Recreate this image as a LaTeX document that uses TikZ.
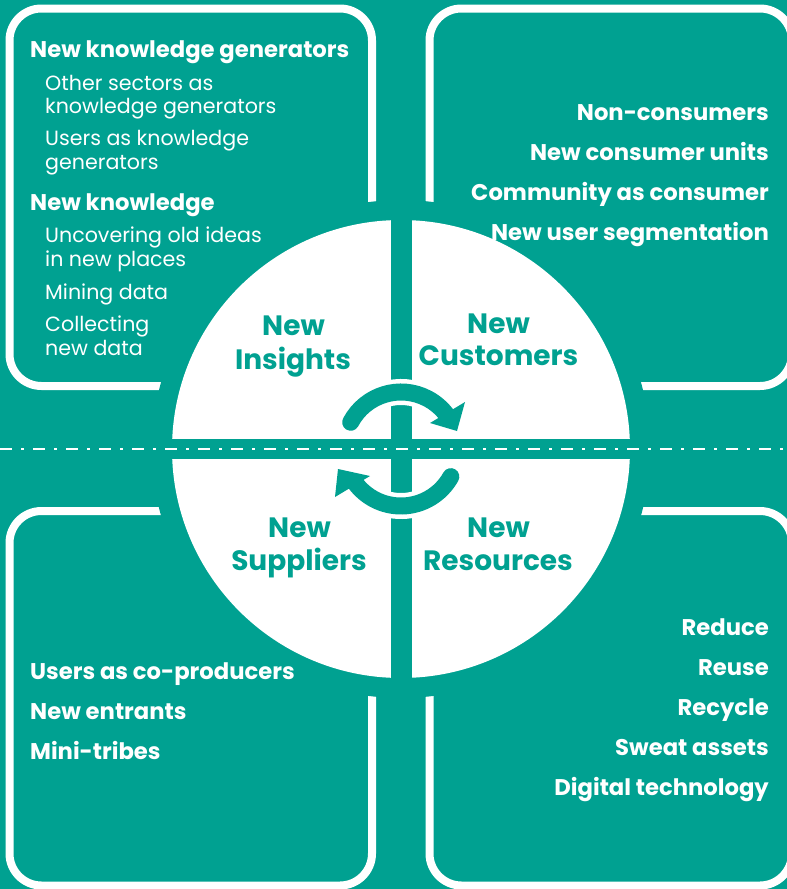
\documentclass[tikz,border=0pt]{standalone}
\usepackage{fontspec}
\setmainfont{Poppins}
\definecolor{bgteal}{RGB}{0,161,145}
\tikzset{
  box/.style={draw=white, line width=8pt, rounded corners=32pt},
  hd/.style={text=white, inner sep=0pt, font=\fontsize{22.7}{26}\selectfont\bfseries},
  itm/.style={text=white, inner sep=0pt, font=\fontsize{20.6}{25}\selectfont},
  lbl/.style={text=bgteal, inner sep=0pt, anchor=base, font=\fontsize{28}{32}\selectfont\bfseries},
}
\begin{document}
\begin{tikzpicture}[x=1pt,y=-1pt]
\fill[bgteal] (0,0) rectangle (787,889);
\useasboundingbox (0,0) rectangle (787,889);
% boxes
\draw[box] (9.5,8.5) rectangle (372,386);
\draw[box] (429.5,8.5) rectangle (792,386);
\draw[box] (9.5,511) rectangle (372,885.5);
\draw[box] (429.5,511) rectangle (792,885.5);
% disc
\fill[bgteal] (401,449) circle[radius=249];
\node[circle, fill=white, minimum size=458pt, inner sep=0pt] (disc) at (401,449) {};
\fill[bgteal] (390.5,215) rectangle (411.5,683);
\fill[bgteal] (165,439) rectangle (637,459);
% cycle arrows
\draw[white, line width=26pt] (401,449) ++(-152:57) arc[start angle=-152, end angle=-36, radius=57];
\draw[bgteal, line width=17pt, line cap=round] (401,449) ++(-152:57) arc[start angle=-152, end angle=-36, radius=57];
\fill[bgteal] (465,402) -- (457,431) -- (430,423) -- cycle;
\draw[white, line width=26pt] (401,449) ++(29:57) arc[start angle=29, end angle=144, radius=57];
\draw[bgteal, line width=17pt, line cap=round] (401,449) ++(29:57) arc[start angle=29, end angle=144, radius=57];
\fill[bgteal] (338,469) -- (370,476) -- (335,497) -- cycle;
% dash-dot line
\draw[white, line width=2.5pt, dash pattern=on 12pt off 9pt on 3pt off 9pt] (0,449) -- (787,449);
% circle labels
\node[lbl] (ins1) at (293.5,335) {New};
\node[lbl] (ins2) at (293,369) {Insights};
\node[lbl] (cus1) at (498.5,333) {New};
\node[lbl] (cus2) at (498.5,365) {Customers};
\node[lbl] (sup1) at (299.5,537) {New};
\node[lbl] (sup2) at (299,570) {Suppliers};
\node[lbl] (res1) at (498.5,537) {New};
\node[lbl] (res2) at (498,570) {Resources};
% top-left
\node[hd, anchor=base west] (kg) at (30,57) {New knowledge generators};
\node[itm, anchor=base west] (os1) at (45,90) {Other sectors as};
\node[itm, anchor=base west] (os2) at (45,113.3) {knowledge generators};
\node[itm, anchor=base west] (ua1) at (45,145.7) {Users as knowledge};
\node[itm, anchor=base west] (ua2) at (45,169) {generators};
\node[hd, anchor=base west] (nk) at (30,210.7) {New knowledge};
\node[itm, anchor=base west] (uo1) at (45,242.7) {Uncovering old ideas};
\node[itm, anchor=base west] (uo2) at (45,266.7) {in new places};
\node[itm, anchor=base west] (md) at (45,299) {Mining data};
\node[itm, anchor=base west] (cd1) at (45,331.7) {Collecting};
\node[itm, anchor=base west] (cd2) at (45,355) {new data};
% top-right
\node[hd, anchor=base east] (nc) at (769,120.7) {Non-consumers};
\node[hd, anchor=base east] (ncu) at (769,160.7) {New consumer units};
\node[hd, anchor=base east] (cac) at (769,200.7) {Community as consumer};
\node[hd, anchor=base east] (nus) at (769,240.7) {New user segmentation};
% bottom-left
\node[hd, anchor=base west] (ucp) at (30,679) {Users as co-producers};
\node[hd, anchor=base west] (ne) at (30,719) {New entrants};
\node[hd, anchor=base west] (mt) at (30,759) {Mini-tribes};
% bottom-right
\node[hd, anchor=base east] (red) at (769,635) {Reduce};
\node[hd, anchor=base east] (reu) at (769,675) {Reuse};
\node[hd, anchor=base east] (rec) at (769,715) {Recycle};
\node[hd, anchor=base east] (swa) at (769,755) {Sweat assets};
\node[hd, anchor=base east] (dig) at (769,795) {Digital technology};
\end{tikzpicture}
\end{document}
